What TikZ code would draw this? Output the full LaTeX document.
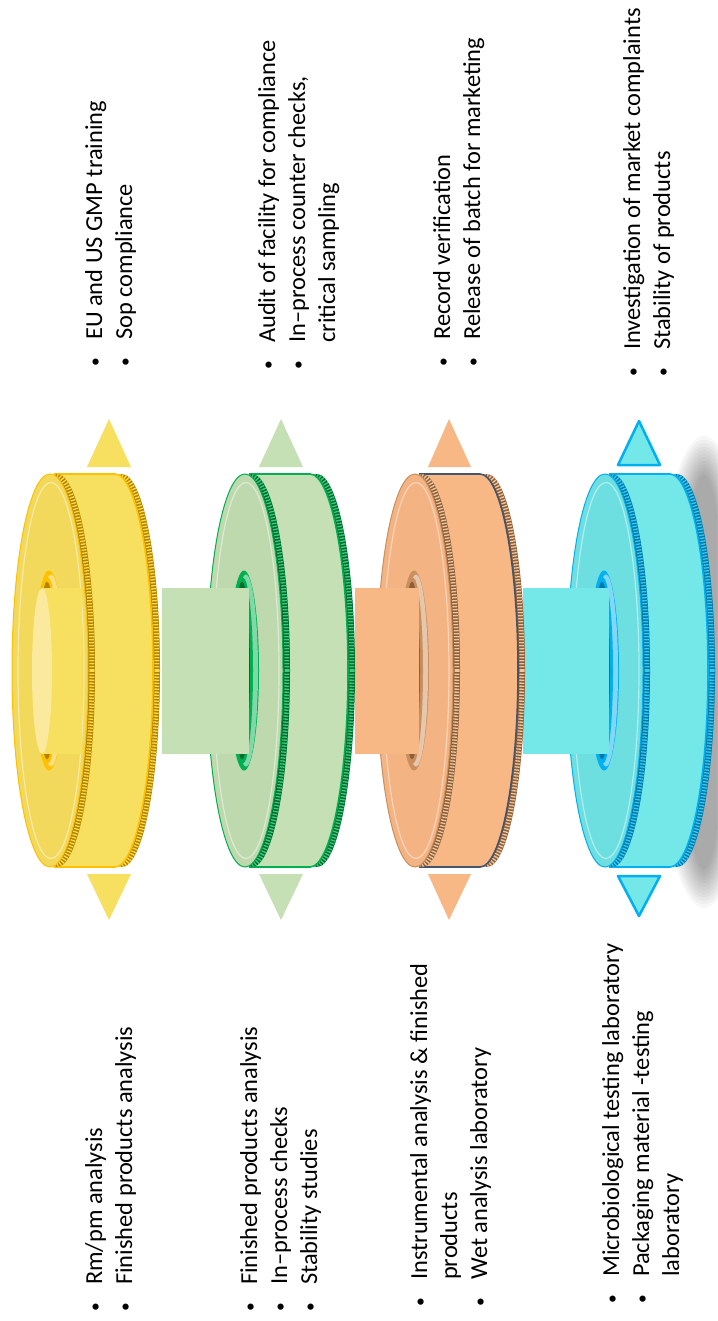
\documentclass[tikz,border=0pt]{standalone}
\usepackage{fontspec}
\setmainfont{Carlito}
\definecolor{yMain}{HTML}{F7DF5F}
\definecolor{yFace}{HTML}{F2D95B}
\definecolor{yRim}{HTML}{FFC000}
\definecolor{yDark}{HTML}{B08400}
\definecolor{yTeeth}{HTML}{FFD84A}
\definecolor{yCap}{HTML}{FBEA9E}
\definecolor{gMain}{HTML}{C5E0B4}
\definecolor{gFace}{HTML}{BFD9AE}
\definecolor{gRim}{HTML}{00B050}
\definecolor{gDark}{HTML}{006B30}
\definecolor{gTeeth}{HTML}{3CCB7A}
\definecolor{oMain}{HTML}{F8B886}
\definecolor{oFace}{HTML}{F4B383}
\definecolor{oRim}{HTML}{C9905E}
\definecolor{oDark}{HTML}{8E5E38}
\definecolor{oTeeth}{HTML}{EBC7A0}
\definecolor{oLine}{HTML}{44546A}
\definecolor{cMain}{HTML}{74E7E8}
\definecolor{cFace}{HTML}{6EDFE1}
\definecolor{cRim}{HTML}{00B0F0}
\definecolor{cDark}{HTML}{0079A8}
\definecolor{cTeeth}{HTML}{35C8F0}
\newcommand\bul{\makebox[27pt][l]{\raisebox{1.5pt}{\scalebox{0.72}{\textbullet}}}}
% #1 left x, #2 band, #3 face, #4 rim, #5 knurl dark, #6 band outline, #7 teeth
\newcommand\qcoin[7]{%
  \fill[#5] ({#1+110},670.5) ellipse [x radius=38, y radius=196.5];
  \begin{scope}
    \clip ({#1+110},670.5) ellipse [x radius=38, y radius=196.5];
    \draw[#7, line width=5pt, dash pattern=on 1.3pt off 1.7pt] ({#1+107},670.5) ellipse [x radius=38, y radius=196.5];
  \end{scope}
  \filldraw[fill=#2, draw=#6, line width=1.6pt] ({#1+103},670.5) ellipse [x radius=38, y radius=196.5];
  \fill[#2] ({#1+42},474) rectangle ({#1+103},867);
  \draw[#6, line width=1.6pt] ({#1+42},474) -- ({#1+103},474) ({#1+42},867) -- ({#1+103},867);
  \fill[#5] ({#1+45},670.5) ellipse [x radius=38, y radius=196.5];
  \begin{scope}
    \clip ({#1+45},670.5) ellipse [x radius=38, y radius=196.5];
    \draw[#7, line width=5pt, dash pattern=on 1.3pt off 1.7pt] ({#1+42},670.5) ellipse [x radius=38, y radius=196.5];
  \end{scope}
  \filldraw[fill=#3, draw=#4, line width=1pt] ({#1+38},670.5) ellipse [x radius=38, y radius=196.5];
  \draw[white, opacity=.45, line width=1.2pt] ({#1+39},670.5) ellipse [x radius=33, y radius=188];
  \fill[#4] ({#1+37},670.5) ellipse [x radius=15, y radius=100];
  \fill[white, opacity=.5] ({#1+39},670.5) ellipse [x radius=12, y radius=96];
  \fill[#4] ({#1+36},670.5) ellipse [x radius=10, y radius=93];
  \fill[#5] ({#1+35},670.5) ellipse [x radius=8, y radius=89];
}
\begin{document}
\begin{tikzpicture}[x=1pt, y=-1pt,
  txt/.style={rotate=90, anchor=base west, inner sep=0pt, font=\fontsize{24.4}{29.8}\selectfont}]
\useasboundingbox (0,0) rectangle (717,1321);
\fill[white] (0,0) rectangle (717,1321);
% shadow
\foreach \i in {0,...,11} {
  \fill[black, opacity=0.032] (704,672) ellipse [x radius={50-2.5*\i}, y radius={236-3.5*\i}];
}
% coins (back to front)
\qcoin{567}{cMain}{cFace}{cRim}{cDark}{cRim}{cTeeth}
\fill[cMain] (523,588) rectangle (609,754);
\qcoin{377}{oMain}{oFace}{oRim}{oDark}{oLine}{oTeeth}
\fill[oMain] (355,588) rectangle (419,754);
\qcoin{207}{gMain}{gFace}{gRim}{gDark}{gRim}{gTeeth}
\fill[gMain] (162,588) rectangle (249,754);
\qcoin{12}{yMain}{yFace}{yRim}{yDark}{yRim}{yTeeth}
\fill[yMain] (42,588) rectangle (82,754);
\fill[yCap] (42,671) ellipse [x radius=10, y radius=83];
% triangles
\fill[yMain] (109,419) -- (87,467) -- (131,467) -- cycle;
\fill[yMain] (109,920) -- (87,874) -- (131,874) -- cycle;
\fill[gMain] (281,419) -- (259,467) -- (303,467) -- cycle;
\fill[gMain] (281,920) -- (259,874) -- (303,874) -- cycle;
\fill[oMain] (449,419) -- (428,467) -- (471,467) -- cycle;
\fill[oMain] (449,920) -- (428,874) -- (471,874) -- cycle;
\filldraw[fill=cMain, draw=cRim, line width=2.5pt, line join=round] (639,421) -- (618,465) -- (660,465) -- cycle;
\filldraw[fill=cMain, draw=cRim, line width=2.5pt, line join=round] (639,916) -- (618,876) -- (660,876) -- cycle;
% top texts
\node[txt] (u1a) at (102,367) {\bul EU and US GMP training};
\node[txt] (u1b) at (132,367) {\bul Sop compliance};
\node[txt] (u2a) at (275,370) {\bul Audit of facility for compliance};
\node[txt] (u2b) at (305,370) {\bul In–process counter checks,};
\node[txt] (u2c) at (335,343) {critical sampling};
\node[txt] (u3a) at (450,367) {\bul Record verification};
\node[txt] (u3b) at (480,367) {\bul Release of batch for marketing};
\node[txt] (u4a) at (640,377) {\bul Investigation of market complaints};
\node[txt] (u4b) at (670,377) {\bul Stability of products};
% bottom texts
\node[txt] (d1a) at (102,1312) {\bul Rm/pm analysis};
\node[txt] (d1b) at (132,1312) {\bul Finished products analysis};
\node[txt] (d2a) at (257,1312) {\bul Finished products analysis};
\node[txt] (d2b) at (287,1312) {\bul In–process checks};
\node[txt] (d2c) at (317,1312) {\bul Stability studies};
\node[txt] (d3a) at (427,1307) {\bul Instrumental analysis \& finished};
\node[txt] (d3b) at (457,1280) {products};
\node[txt] (d3c) at (487,1307) {\bul Wet analysis laboratory};
\node[txt] (d4a) at (619,1304) {\bul Microbiological testing laboratory};
\node[txt] (d4b) at (649,1304) {\bul Packaging material -testing};
\node[txt] (d4c) at (679,1277) {laboratory};
\end{tikzpicture}
\end{document}
